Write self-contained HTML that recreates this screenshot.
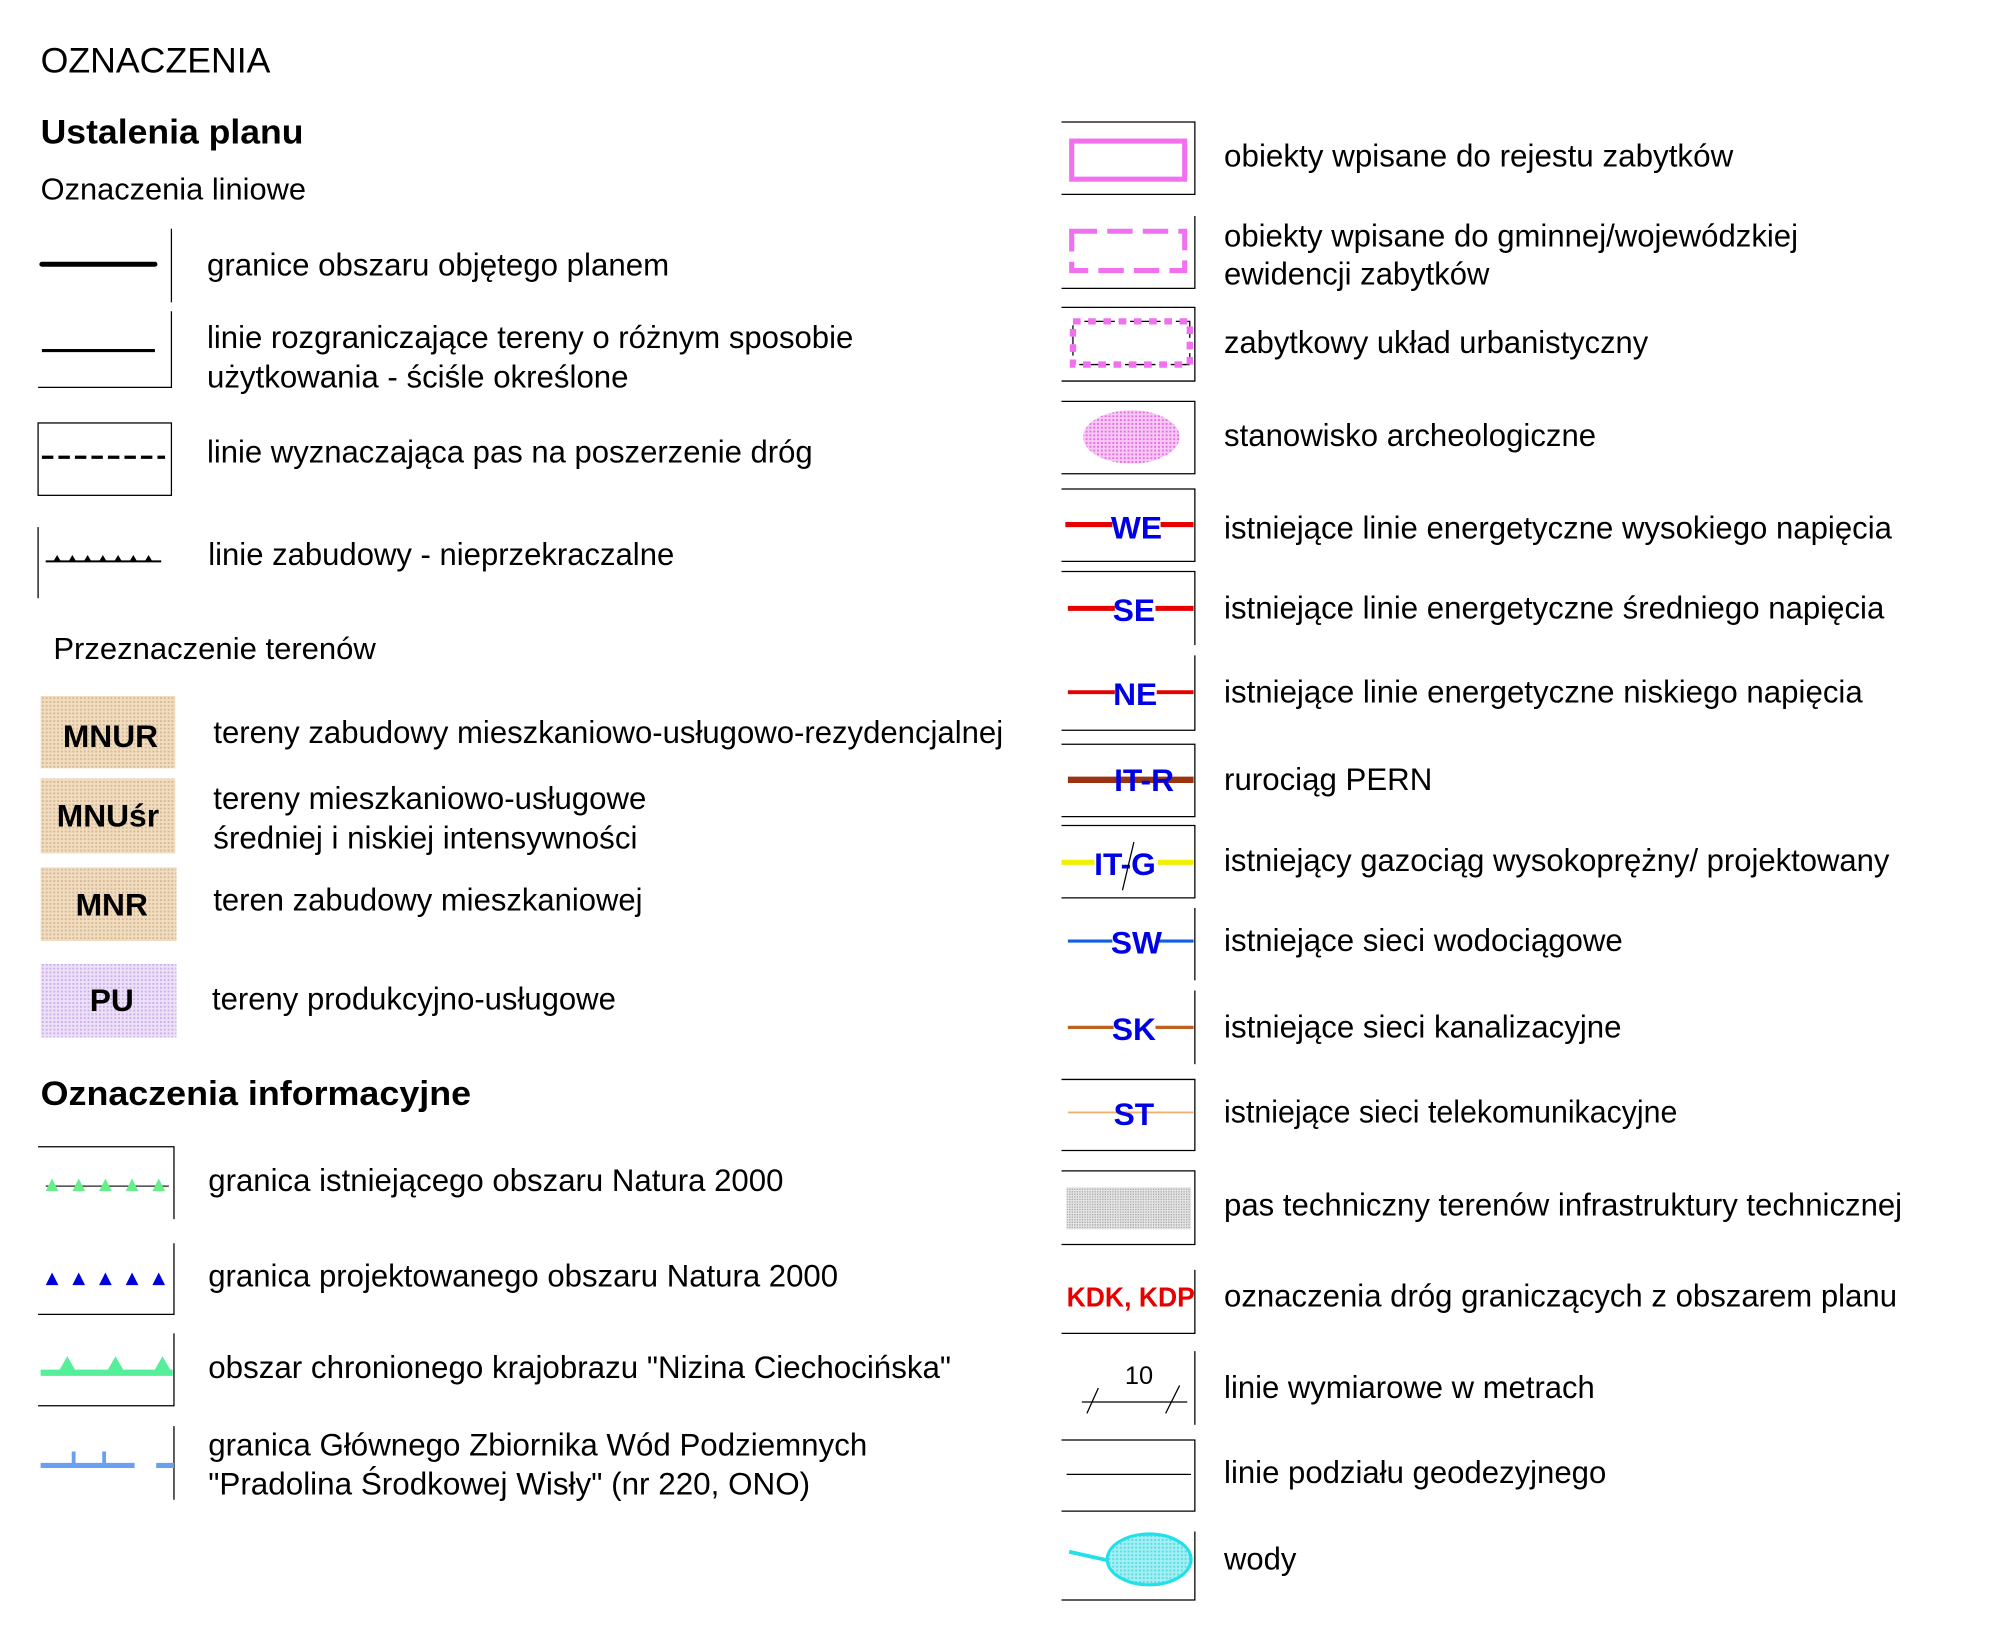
<!DOCTYPE html>
<html><head><meta charset="utf-8"><style>
html,body{margin:0;padding:0;background:#fff;}
svg{display:block;}
text{font-family:"Liberation Sans",sans-serif;fill:#000;}
.t{font-size:24.5px;}
.b{font-weight:bold;}
.lbl{font-weight:bold;fill:#0000e6;font-size:25px;}
</style></head><body>
<svg width="1991" height="1637" viewBox="0 0 1568 1289" xmlns="http://www.w3.org/2000/svg">
<defs>
<pattern id="tan" width="3" height="3" patternUnits="userSpaceOnUse"><rect width="3" height="3" fill="#f0dcc0"/><rect width="1.5" height="1.5" fill="#d8b890"/></pattern>
<pattern id="lav" width="3" height="3" patternUnits="userSpaceOnUse"><rect width="3" height="3" fill="#efe0fa"/><rect width="1.5" height="1.5" fill="#c8b0e8"/></pattern>
<pattern id="pk" width="3" height="3" patternUnits="userSpaceOnUse"><rect width="3" height="3" fill="#f8c8f4"/><rect width="1.5" height="1.5" fill="#e070e0"/></pattern>
<pattern id="gr" width="2" height="2" patternUnits="userSpaceOnUse"><rect width="2" height="2" fill="#e4e4e4"/><rect width="1" height="1" fill="#a8a8a8"/></pattern>
<pattern id="cy" width="3" height="3" patternUnits="userSpaceOnUse"><rect width="3" height="3" fill="#a0f0f4"/><rect width="1.5" height="1.5" fill="#60d8e0"/></pattern>
</defs>
<g stroke="#000" fill="none" stroke-width="1">
<line x1="135" y1="180" x2="135" y2="238"/>
<polyline points="135,245 135,305 30,305"/>
<rect x="30" y="333" width="105" height="57"/>
<line x1="30" y1="415" x2="30" y2="471"/>
<polyline points="30,903 137,903 137,960"/>
<polyline points="137,979 137,1035 30,1035"/>
<polyline points="137,1050 137,1107 30,1107"/>
<line x1="137" y1="1123" x2="137" y2="1181"/>
<polyline points="836,96 941,96 941,153 836,153"/>
<polyline points="941,170 941,227 836,227"/>
<polyline points="836,242 941,242 941,300 836,300"/>
<polyline points="836,316 941,316 941,373 836,373"/>
<polyline points="836,385 941,385 941,442 836,442"/>
<polyline points="836,450 941,450 941,508"/>
<polyline points="941,516 941,575 836,575"/>
<polyline points="836,586 941,586 941,643 836,643"/>
<polyline points="836,650 941,650 941,707 836,707"/>
<polyline points="941,715 941,772"/>
<line x1="941" y1="780" x2="941" y2="838"/>
<polyline points="836,850 941,850 941,906 836,906"/>
<polyline points="836,922 941,922 941,980 836,980"/>
<polyline points="941,1000 941,1050 836,1050"/>
<line x1="941" y1="1064" x2="941" y2="1122"/>
<polyline points="836,1134 941,1134 941,1190 836,1190"/>
<polyline points="941,1206 941,1260 836,1260"/>
</g>
<line x1="33" y1="208" x2="122" y2="208" stroke="#000" stroke-width="4" stroke-linecap="round"/>
<line x1="33" y1="276" x2="122" y2="276" stroke="#000" stroke-width="2.5"/>
<line x1="33" y1="360" x2="130" y2="360" stroke="#000" stroke-width="2.5" stroke-dasharray="9,4"/>
<line x1="36" y1="442" x2="127" y2="442" stroke="#000" stroke-width="1.5"/>
<g fill="#000"><path d="M42,442l3,-5l3,5zM54,442l3,-5l3,5zM66,442l3,-5l3,5zM78,442l3,-5l3,5zM90,442l3,-5l3,5zM102,442l3,-5l3,5zM114,442l3,-5l3,5z"/></g>
<rect x="32" y="548" width="106" height="57" fill="url(#tan)"/>
<rect x="32" y="613" width="106" height="59" fill="url(#tan)"/>
<rect x="32" y="683" width="107" height="58" fill="url(#tan)"/>
<rect x="32" y="759" width="107" height="58" fill="url(#lav)"/>
<text x="87" y="588" class="b" font-size="25" text-anchor="middle">MNUR</text>
<text x="85" y="651" class="b" font-size="25" text-anchor="middle">MNUśr</text>
<text x="88" y="721" class="b" font-size="25" text-anchor="middle">MNR</text>
<text x="88" y="796" class="b" font-size="25" text-anchor="middle">PU</text>
<line x1="36" y1="934" x2="133" y2="934" stroke="#222" stroke-width="1"/>
<g fill="#66ee88"><path d="M36,938l5,-10l5,10zM57,938l5,-10l5,10zM78,938l5,-10l5,10zM99,938l5,-10l5,10zM120,938l5,-10l5,10z"/></g>
<g fill="#0000dd"><path d="M36,1012l5,-10l5,10zM57,1012l5,-10l5,10zM78,1012l5,-10l5,10zM99,1012l5,-10l5,10zM120,1012l5,-10l5,10z"/></g>
<line x1="32" y1="1081" x2="136" y2="1081" stroke="#55ee99" stroke-width="5"/>
<g fill="#55ee99"><path d="M45,1082l8,-14l8,14zM83,1082l8,-14l8,14zM120,1082l8,-14l8,14z"/></g>
<g stroke="#6aa0f0" stroke-width="4"><line x1="32" y1="1154" x2="106" y2="1154"/><line x1="123" y1="1154" x2="137" y2="1154"/></g>
<g stroke="#6aa0f0" stroke-width="3"><line x1="58" y1="1154" x2="58" y2="1143"/><line x1="82" y1="1154" x2="82" y2="1143"/></g>
<rect x="844" y="111" width="89" height="30" fill="none" stroke="#f070f0" stroke-width="4"/>
<rect x="844" y="182" width="89" height="31" fill="none" stroke="#f070f0" stroke-width="4" stroke-dasharray="20,8"/>
<rect x="845" y="253" width="92" height="34" fill="none" stroke="#000" stroke-width="1" stroke-dasharray="6,3"/>
<rect x="845" y="253" width="92" height="34" fill="none" stroke="#f070f0" stroke-width="5" stroke-dasharray="6,6"/>
<ellipse cx="891" cy="344" rx="38" ry="21" fill="url(#pk)"/>
<g stroke-width="4"><line x1="839" y1="413" x2="940" y2="413" stroke="#e60000"/>
<line x1="841" y1="479" x2="940" y2="479" stroke="#e60000"/>
<line x1="841" y1="545" x2="940" y2="545" stroke="#e60000" stroke-width="3"/>
<line x1="841" y1="614" x2="940" y2="614" stroke="#993311" stroke-width="5"/>
<line x1="836" y1="679" x2="940" y2="679" stroke="#f0f000" stroke-width="4"/></g>
<rect x="876" y="401" width="38" height="24" fill="#fff"/>
<rect x="878" y="467" width="32" height="24" fill="#fff"/>
<rect x="878" y="533" width="33" height="24" fill="#fff"/>
<rect x="862" y="665" width="50" height="26" fill="#fff"/>
<text x="895" y="424" class="lbl" text-anchor="middle">WE</text>
<text x="893" y="489" class="lbl" text-anchor="middle">SE</text>
<text x="894" y="555" class="lbl" text-anchor="middle">NE</text>
<text x="901" y="623" class="lbl" text-anchor="middle">IT-R</text>
<text x="886" y="689" class="lbl" text-anchor="middle">IT-G</text>
<line x1="893" y1="663" x2="884" y2="701" stroke="#000" stroke-width="1"/>
<line x1="841" y1="741" x2="940" y2="741" stroke="#1060e0" stroke-width="2.5"/>
<line x1="841" y1="809" x2="940" y2="809" stroke="#c06020" stroke-width="2.5"/>
<line x1="841" y1="876" x2="940" y2="876" stroke="#f0b070" stroke-width="1.5"/>
<rect x="876" y="729" width="36" height="24" fill="#fff"/>
<rect x="877" y="797" width="33" height="24" fill="#fff"/>
<text x="895" y="751" class="lbl" text-anchor="middle">SW</text>
<text x="893" y="819" class="lbl" text-anchor="middle">SK</text>
<text x="893" y="886" class="lbl" text-anchor="middle">ST</text>
<rect x="840" y="935" width="98" height="33" fill="url(#gr)"/>
<text x="840" y="1029" class="b" font-size="22" style="fill:#e60000" textLength="101" lengthAdjust="spacingAndGlyphs">KDK, KDP</text>
<text x="897" y="1090" font-size="20" text-anchor="middle">10</text>
<line x1="852" y1="1104" x2="935" y2="1104" stroke="#000" stroke-width="1"/>
<line x1="856" y1="1113" x2="865" y2="1093" stroke="#000" stroke-width="1"/>
<line x1="918" y1="1113" x2="929" y2="1091" stroke="#000" stroke-width="1"/>
<line x1="840" y1="1161" x2="938" y2="1161" stroke="#000" stroke-width="1"/>
<line x1="842" y1="1222" x2="878" y2="1230" stroke="#22e0e8" stroke-width="3"/>
<ellipse cx="905" cy="1228" rx="33" ry="20" fill="url(#cy)" stroke="#22e0e8" stroke-width="2.5"/>
<text x="32" y="57" font-size="28" textLength="181" lengthAdjust="spacingAndGlyphs">OZNACZENIA</text>
<text x="32" y="113" class="b" font-size="27" textLength="207" lengthAdjust="spacingAndGlyphs">Ustalenia planu</text>
<text x="32" y="157" font-size="24" textLength="209" lengthAdjust="spacingAndGlyphs">Oznaczenia liniowe</text>
<text x="42" y="519" font-size="24" textLength="254" lengthAdjust="spacingAndGlyphs">Przeznaczenie terenów</text>
<text x="32" y="870" class="b" font-size="27" textLength="339" lengthAdjust="spacingAndGlyphs">Oznaczenia informacyjne</text>
<g>
<text x="163" y="217" class="t" textLength="364" lengthAdjust="spacingAndGlyphs">granice obszaru objętego planem</text>
<text x="163" y="274" class="t" textLength="509" lengthAdjust="spacingAndGlyphs">linie rozgraniczające tereny o różnym sposobie</text>
<text x="163" y="305" class="t" textLength="332" lengthAdjust="spacingAndGlyphs">użytkowania - ściśle określone</text>
<text x="163" y="364" class="t" textLength="477" lengthAdjust="spacingAndGlyphs">linie wyznaczająca pas na poszerzenie dróg</text>
<text x="164" y="445" class="t" textLength="367" lengthAdjust="spacingAndGlyphs">linie zabudowy - nieprzekraczalne</text>
<text x="168" y="585" class="t" textLength="622" lengthAdjust="spacingAndGlyphs">tereny zabudowy mieszkaniowo-usługowo-rezydencjalnej</text>
<text x="168" y="637" class="t" textLength="341" lengthAdjust="spacingAndGlyphs">tereny mieszkaniowo-usługowe</text>
<text x="168" y="668" class="t" textLength="334" lengthAdjust="spacingAndGlyphs">średniej i niskiej intensywności</text>
<text x="168" y="717" class="t" textLength="338" lengthAdjust="spacingAndGlyphs">teren zabudowy mieszkaniowej</text>
<text x="167" y="795" class="t" textLength="318" lengthAdjust="spacingAndGlyphs">tereny produkcyjno-usługowe</text>
<text x="164" y="938" class="t" textLength="453" lengthAdjust="spacingAndGlyphs">granica istniejącego obszaru Natura 2000</text>
<text x="164" y="1013" class="t" textLength="496" lengthAdjust="spacingAndGlyphs">granica projektowanego obszaru Natura 2000</text>
<text x="164" y="1085" class="t" textLength="585" lengthAdjust="spacingAndGlyphs">obszar chronionego krajobrazu "Nizina Ciechocińska"</text>
<text x="164" y="1146" class="t" textLength="519" lengthAdjust="spacingAndGlyphs">granica Głównego Zbiornika Wód Podziemnych</text>
<text x="164" y="1177" class="t" textLength="474" lengthAdjust="spacingAndGlyphs">"Pradolina Środkowej Wisły" (nr 220, ONO)</text>
<text x="964" y="131" class="t" textLength="401" lengthAdjust="spacingAndGlyphs">obiekty wpisane do rejestu zabytków</text>
<text x="964" y="194" class="t" textLength="452" lengthAdjust="spacingAndGlyphs">obiekty wpisane do gminnej/wojewódzkiej</text>
<text x="964" y="224" class="t" textLength="209" lengthAdjust="spacingAndGlyphs">ewidencji zabytków</text>
<text x="964" y="278" class="t" textLength="334" lengthAdjust="spacingAndGlyphs">zabytkowy układ urbanistyczny</text>
<text x="964" y="351" class="t" textLength="293" lengthAdjust="spacingAndGlyphs">stanowisko archeologiczne</text>
<text x="964" y="424" class="t" textLength="526" lengthAdjust="spacingAndGlyphs">istniejące linie energetyczne wysokiego napięcia</text>
<text x="964" y="487" class="t" textLength="520" lengthAdjust="spacingAndGlyphs">istniejące linie energetyczne średniego napięcia</text>
<text x="964" y="553" class="t" textLength="503" lengthAdjust="spacingAndGlyphs">istniejące linie energetyczne niskiego napięcia</text>
<text x="964" y="622" class="t" textLength="164" lengthAdjust="spacingAndGlyphs">rurociąg PERN</text>
<text x="964" y="686" class="t" textLength="524" lengthAdjust="spacingAndGlyphs">istniejący gazociąg wysokoprężny/ projektowany</text>
<text x="964" y="749" class="t" textLength="314" lengthAdjust="spacingAndGlyphs">istniejące sieci wodociągowe</text>
<text x="964" y="817" class="t" textLength="313" lengthAdjust="spacingAndGlyphs">istniejące sieci kanalizacyjne</text>
<text x="964" y="884" class="t" textLength="357" lengthAdjust="spacingAndGlyphs">istniejące sieci telekomunikacyjne</text>
<text x="964" y="957" class="t" textLength="534" lengthAdjust="spacingAndGlyphs">pas techniczny terenów infrastruktury technicznej</text>
<text x="964" y="1029" class="t" textLength="530" lengthAdjust="spacingAndGlyphs">oznaczenia dróg graniczących z obszarem planu</text>
<text x="964" y="1101" class="t" textLength="292" lengthAdjust="spacingAndGlyphs">linie wymiarowe w metrach</text>
<text x="964" y="1168" class="t" textLength="301" lengthAdjust="spacingAndGlyphs">linie podziału geodezyjnego</text>
<text x="964" y="1236" class="t" textLength="57" lengthAdjust="spacingAndGlyphs">wody</text>
</g>
</svg>
</body></html>
